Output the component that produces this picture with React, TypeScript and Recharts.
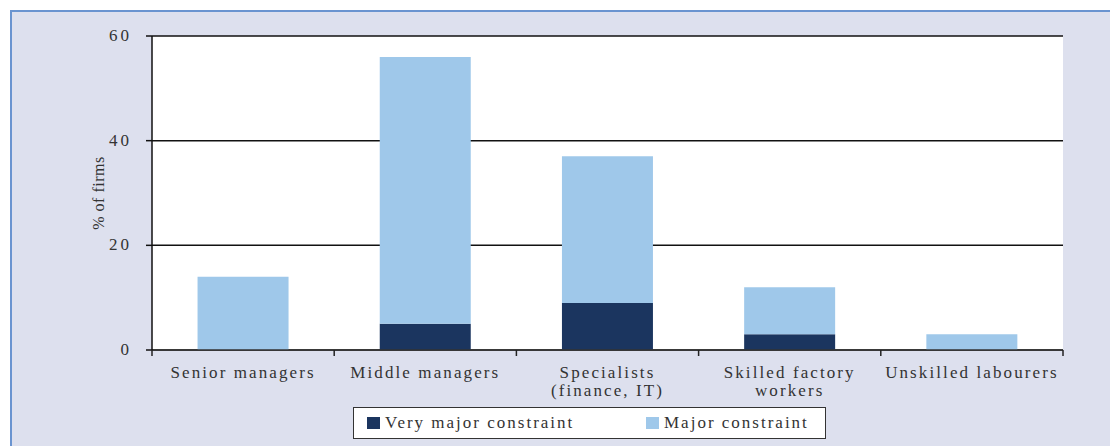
import React from 'react';
import { BarChart, Bar, XAxis, YAxis, CartesianGrid } from 'recharts';

const categories = [
  'Senior managers',
  'Middle managers',
  'Specialists\n(finance, IT)',
  'Skilled factory\nworkers',
  'Unskilled labourers',
];
const veryMajor = [0, 5, 9, 3, 0];
const major = [14, 51, 28, 9, 3];
const yTicks = [0, 20, 40, 60];

const seriesNames = ['Very major constraint', 'Major constraint'];
const seriesColors = ['#1b355f', '#9fc8ea'];

const FONT = '"Liberation Serif", "Times New Roman", serif';
const TEXT = '#333';

const data = categories.map((c, i) => ({
  name: c,
  veryMajor: veryMajor[i],
  major: major[i],
}));

const XTick = (props: any) => {
  const { x, y, payload, index } = props;
  const half = payload && payload.offset ? payload.offset : 91;
  const lines = String(payload.value).split('\n');
  return (
    <g>
      <line x1={x - half} x2={x - half} y1={y} y2={y + 6} stroke="#222" strokeWidth={1.5} />
      {index === categories.length - 1 && (
        <line x1={x + half} x2={x + half} y1={y} y2={y + 6} stroke="#222" strokeWidth={1.5} />
      )}
      <text
        x={x}
        y={y + 28}
        textAnchor="middle"
        fill={TEXT}
        fontFamily={FONT}
        fontSize={17}
        style={{ letterSpacing: '2.1px' }}
      >
        {lines.map((l, i) => (
          <tspan key={i} x={x} dy={i === 0 ? 0 : 18}>
            {l}
          </tspan>
        ))}
      </text>
    </g>
  );
};

const YTick = (props: any) => {
  const { x, y, payload } = props;
  return (
    <text
      x={x}
      y={y + 5}
      textAnchor="end"
      fill={TEXT}
      fontFamily={FONT}
      fontSize={17}
      style={{ letterSpacing: '3px' }}
    >
      {payload.value}
    </text>
  );
};

export default function App() {
  return (
    <div style={{ position: 'absolute', left: 0, top: 0, width: 1110, height: 446, background: '#fff' }}>
      <div
        style={{
          position: 'absolute',
          left: 10,
          top: 10,
          width: 1100,
          height: 436,
          background: '#dde0ee',
          borderTop: '2px solid #6a94d0',
          borderLeft: '2px solid #6a94d0',
          boxSizing: 'border-box',
        }}
      />
      <div style={{ position: 'absolute', left: 0, top: 0 }}>
        <BarChart
          width={1110}
          height={446}
          data={data}
          margin={{ top: 36, right: 47, bottom: 0, left: 40 }}
          barCategoryGap="25%"
        >
          <CartesianGrid vertical={false} stroke="#111" strokeWidth={1.5} fill="#fff" />
          <XAxis
            dataKey="name"
            interval={0}
            tickSize={0}
            tickMargin={0}
            tickLine={false}
            axisLine={{ stroke: '#333', strokeWidth: 1.5 }}
            tick={<XTick />}
            height={96}
          />
          <YAxis
            width={112}
            domain={[0, 60]}
            ticks={yTicks}
            interval={0}
            tickSize={6}
            tickMargin={14}
            tickLine={{ stroke: '#111', strokeWidth: 1.5 }}
            axisLine={{ stroke: '#111', strokeWidth: 1.5 }}
            tick={<YTick />}
            label={{
              value: '% of firms',
              angle: -90,
              position: 'center',
              dx: 2,
              style: { fill: TEXT, fontFamily: FONT, fontSize: 16, letterSpacing: '0.5px' },
            }}
          />
          <Bar dataKey="veryMajor" name={seriesNames[0]} stackId="a" fill={seriesColors[0]} isAnimationActive={false} />
          <Bar dataKey="major" name={seriesNames[1]} stackId="a" fill={seriesColors[1]} isAnimationActive={false} />
        </BarChart>
      </div>
      <div
        style={{
          position: 'absolute',
          left: 353,
          top: 407,
          width: 473,
          height: 32,
          background: '#fff',
          border: '1.5px solid #333',
          boxSizing: 'border-box',
          fontFamily: FONT,
          fontSize: 17,
          color: TEXT,
          letterSpacing: '2px',
        }}
      >
        {seriesNames.map((n, i) => (
          <div
            key={n}
            style={{
              position: 'absolute',
              left: i === 0 ? 13 : 292,
              top: 5,
              display: 'flex',
              alignItems: 'center',
              whiteSpace: 'nowrap',
            }}
          >
            <span style={{ display: 'inline-block', width: 13, height: 12, background: seriesColors[i], marginRight: 5 }} />
            <span>{n}</span>
          </div>
        ))}
      </div>
    </div>
  );
}
